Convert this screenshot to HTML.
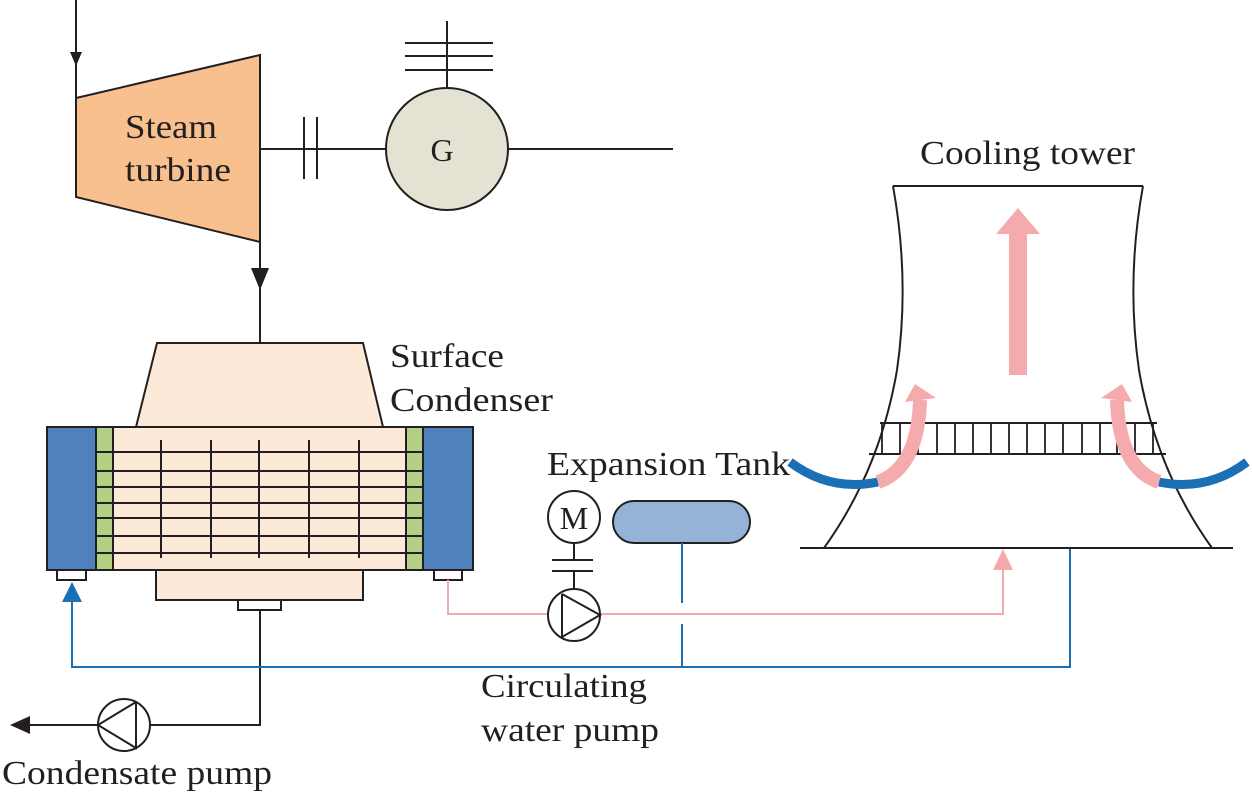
<!DOCTYPE html>
<html><head><meta charset="utf-8"><style>
html,body{margin:0;padding:0;background:#fff;}
svg{display:block;}
text{font-family:"Liberation Serif",serif;fill:#231f20;}
</style></head><body>
<svg width="1252" height="793" viewBox="0 0 1252 793" xmlns="http://www.w3.org/2000/svg">
<g stroke="#231f20" stroke-width="2" fill="none">
<line x1="76" y1="0" x2="76" y2="98"/>
<polygon points="76,98 260,55 260,242 76,197" fill="#f9c08f"/>
<line x1="260" y1="149" x2="386" y2="149"/>
<line x1="304" y1="117" x2="304" y2="179"/>
<line x1="317" y1="117" x2="317" y2="179"/>
<circle cx="447" cy="149" r="61" fill="#e4e2d3"/>
<line x1="508" y1="149" x2="673" y2="149"/>
<line x1="447" y1="88" x2="447" y2="21"/>
<line x1="405" y1="43" x2="493" y2="43"/>
<line x1="405" y1="56" x2="493" y2="56"/>
<line x1="405" y1="70" x2="493" y2="70"/>
<line x1="260" y1="242" x2="260" y2="343"/>
<polygon points="157,343 363,343 383,427 136,427" fill="#fce9d8"/>
<rect x="156" y="570" width="207" height="30" fill="#fce9d8"/>
<rect x="238" y="600" width="43" height="10" fill="#fff"/>
<rect x="57" y="570" width="29" height="10" fill="#fff"/>
<rect x="434" y="570" width="28" height="10" fill="#fff"/>
<rect x="47" y="427" width="426" height="143" fill="#fce9d8"/>
<rect x="47" y="427" width="49" height="143" fill="#4f81bd"/>
<rect x="423" y="427" width="50" height="143" fill="#4f81bd"/>
<rect x="96" y="427" width="17" height="143" fill="#b3cf86"/>
<rect x="406" y="427" width="17" height="143" fill="#b3cf86"/>
<g>
<line x1="96" y1="452" x2="423" y2="452"/><line x1="96" y1="471" x2="423" y2="471"/>
<line x1="96" y1="487" x2="423" y2="487"/><line x1="96" y1="503" x2="423" y2="503"/>
<line x1="96" y1="518" x2="423" y2="518"/><line x1="96" y1="536" x2="423" y2="536"/>
<line x1="96" y1="553" x2="423" y2="553"/>
<line x1="161" y1="440" x2="161" y2="558"/><line x1="211" y1="440" x2="211" y2="558"/>
<line x1="259" y1="440" x2="259" y2="558"/><line x1="309" y1="440" x2="309" y2="558"/>
<line x1="359" y1="440" x2="359" y2="558"/>
</g>
<polyline points="260,610 260,725 150,725"/>
<line x1="98" y1="725" x2="30" y2="725"/>
<circle cx="124" cy="725" r="26" fill="#fff"/>
<polyline points="136,702 136,748 98,725 136,702"/>
<circle cx="574" cy="517" r="26" fill="#fff"/>
<line x1="574" y1="543" x2="574" y2="560"/>
<line x1="552" y1="560" x2="593" y2="560"/>
<line x1="552" y1="571" x2="593" y2="571"/>
<line x1="574" y1="571" x2="574" y2="589"/>
<rect x="613" y="501" width="137" height="42" rx="21" fill="#95b3d7"/>
</g>
<polyline points="448,580 448,614 1003,614 1003,566" fill="none" stroke="#f4a9ad" stroke-width="2"/>
<polygon points="993,570 1013,570 1003,549" fill="#f4a9ad"/>
<polyline points="72,598 72,667 1070,667 1070,548" fill="none" stroke="#1a6fb5" stroke-width="2"/>
<polygon points="62,602 82,602 72,582" fill="#1a6fb5"/>
<line x1="682" y1="543" x2="682" y2="603" stroke="#1a6fb5" stroke-width="2"/>
<line x1="682" y1="624" x2="682" y2="667" stroke="#1a6fb5" stroke-width="2"/>
<g stroke="#231f20" stroke-width="2" fill="none">
<circle cx="574" cy="615" r="26" fill="#fff"/>
<polyline points="562,594 562,637 600,615 562,594"/>
</g>
<polygon points="70,52 82,52 76,66" fill="#231f20"/>
<polygon points="251,268 269,268 260,290" fill="#231f20"/>
<polygon points="30,716 30,734 10,725" fill="#231f20"/>
<g stroke="#231f20" stroke-width="2" fill="none">
<path d="M893,186 Q910,280 897,370 Q880,470 824,548"/>
<path d="M1143,186 Q1126,280 1139,370 Q1156,470 1212,548"/>
<line x1="893" y1="186" x2="1143" y2="186"/>
<line x1="800" y1="548" x2="1233" y2="548"/>
<line x1="880" y1="423" x2="1157" y2="423"/>
<line x1="869" y1="454" x2="1166" y2="454"/>
<g stroke-width="1.8">
<line x1="882" y1="423" x2="882" y2="454"/><line x1="900" y1="423" x2="900" y2="454"/>
<line x1="918" y1="423" x2="918" y2="454"/><line x1="937" y1="423" x2="937" y2="454"/>
<line x1="955" y1="423" x2="955" y2="454"/><line x1="973" y1="423" x2="973" y2="454"/>
<line x1="991" y1="423" x2="991" y2="454"/><line x1="1009" y1="423" x2="1009" y2="454"/>
<line x1="1027" y1="423" x2="1027" y2="454"/><line x1="1045" y1="423" x2="1045" y2="454"/>
<line x1="1063" y1="423" x2="1063" y2="454"/><line x1="1082" y1="423" x2="1082" y2="454"/>
<line x1="1100" y1="423" x2="1100" y2="454"/><line x1="1117" y1="423" x2="1117" y2="454"/>
<line x1="1135" y1="423" x2="1135" y2="454"/><line x1="1153" y1="423" x2="1153" y2="454"/>
</g>
</g>
<polygon points="1009,375 1027,375 1027,234 1040,234 1018,208 996,234 1009,234" fill="#f5abae"/>
<!-- left curved -->
<path d="M790,462 Q830,492 878,482" fill="none" stroke="#1a6fb5" stroke-width="9"/>
<path d="M878,482 Q918,468 920,400" fill="none" stroke="#f5abae" stroke-width="14"/>
<polygon points="905,402 936,398 915,384" fill="#f5abae"/>
<!-- right curved -->
<path d="M1247,462 Q1207,492 1159,482" fill="none" stroke="#1a6fb5" stroke-width="9"/>
<path d="M1159,482 Q1119,468 1117,400" fill="none" stroke="#f5abae" stroke-width="14"/>
<polygon points="1132,402 1101,398 1122,384" fill="#f5abae"/>
<text x="171" y="138" font-size="34" text-anchor="middle" textLength="92" lengthAdjust="spacingAndGlyphs">Steam</text>
<text x="178" y="181" font-size="34" text-anchor="middle" textLength="106" lengthAdjust="spacingAndGlyphs">turbine</text>
<text x="442" y="161" font-size="32" text-anchor="middle">G</text>
<text x="574" y="529" font-size="32" text-anchor="middle">M</text>
<text x="920" y="164" font-size="34" textLength="215" lengthAdjust="spacingAndGlyphs">Cooling tower</text>
<text x="390" y="367" font-size="34" textLength="114" lengthAdjust="spacingAndGlyphs">Surface</text>
<text x="390" y="411" font-size="34" textLength="163" lengthAdjust="spacingAndGlyphs">Condenser</text>
<text x="547" y="475" font-size="34" textLength="243" lengthAdjust="spacingAndGlyphs">Expansion Tank</text>
<text x="481" y="697" font-size="34" textLength="166" lengthAdjust="spacingAndGlyphs">Circulating</text>
<text x="481" y="741" font-size="34" textLength="178" lengthAdjust="spacingAndGlyphs">water pump</text>
<text x="2" y="784" font-size="34" textLength="270" lengthAdjust="spacingAndGlyphs">Condensate pump</text>
</svg>
</body></html>
